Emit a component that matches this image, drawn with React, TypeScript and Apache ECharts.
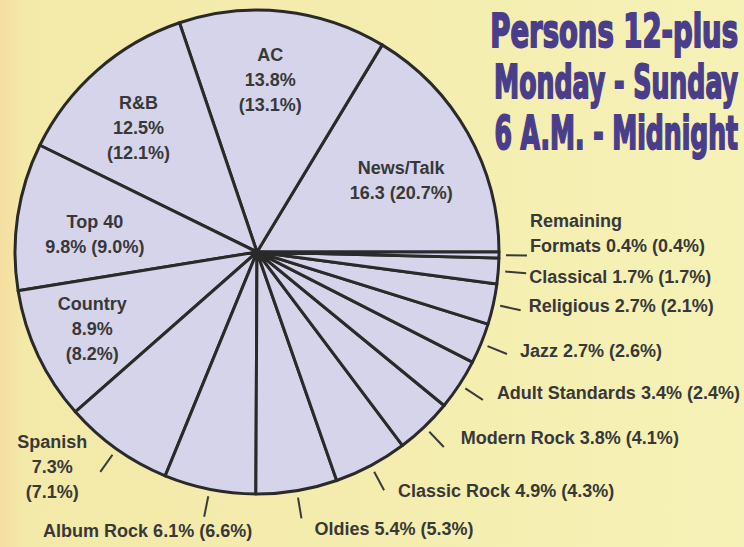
import React, { useEffect, useRef } from "react";
import * as echarts from "echarts";

// Radio format shares, Persons 12-plus, Mon-Sun 6 A.M. - Midnight
const formats = [
  "News/Talk",
  "AC",
  "R&B",
  "Top 40",
  "Country",
  "Spanish",
  "Album Rock",
  "Oldies",
  "Classic Rock",
  "Modern Rock",
  "Adult Standards",
  "Jazz",
  "Religious",
  "Classical",
  "Remaining Formats",
];
const shares = [16.3, 13.8, 12.5, 9.8, 8.9, 7.3, 6.1, 5.4, 4.9, 3.8, 3.4, 2.7, 2.7, 1.7, 0.4];
const priorShares = [20.7, 13.1, 12.1, 9.0, 8.2, 7.1, 6.6, 5.3, 4.3, 4.1, 2.4, 2.6, 2.1, 1.7, 0.4];
// where each label sits and how its text wraps
const labelSide = [
  "inside", "inside", "inside", "inside", "inside",
  "outside", "outside", "outside", "outside", "outside",
  "outside", "outside", "outside", "outside", "outside",
];
const labelWrap = [
  "twoNoPct", "three", "three", "two", "three",
  "three", "one", "one", "one", "one",
  "one", "one", "one", "one", "splitName",
];
const titleLines = ["Persons 12-plus", "Monday - Sunday", "6 A.M. - Midnight"];

function labelText(i: number): string {
  const name = formats[i];
  const cur = shares[i].toFixed(1);
  const prior = `(${priorShares[i].toFixed(1)}%)`;
  switch (labelWrap[i]) {
    case "twoNoPct":
      return `${name}\n${cur} ${prior}`;
    case "three":
      return `${name}\n${cur}%\n${prior}`;
    case "two":
      return `${name}\n${cur}% ${prior}`;
    case "splitName": {
      const parts = name.split(" ");
      return `${parts[0]}\n${parts.slice(1).join(" ")} ${cur}% ${prior}`;
    }
    default:
      return `${name} ${cur}% ${prior}`;
  }
}

const TEXT_COLOR = "#383838";
const LABEL_FONT = "'Liberation Sans', Arial, sans-serif";
const TITLE_COLOR = "#4a3d8c";
// per-line horizontal squeeze of the condensed title (layout styling)
const TITLE_SCALE = [0.65, 0.597, 0.593];

// small label offsets (layout styling, in px) relative to ECharts' own label placement
const LABEL_NUDGE: Record<string, [number, number]> = {
  "News/Talk": [-3, 12],
  AC: [-5, -4],
  "R&B": [-7, 3],
  "Top 40": [5, 7],
  Country: [-12, 5],
  Spanish: [-6, -5],
  "Album Rock": [55, 14],
  Oldies: [6, 11],
  "Classic Rock": [7, 1],
  "Modern Rock": [10, -9],
  "Adult Standards": [7, -7],
  Jazz: [6, -3],
  Religious: [1, -4],
  Classical: [-4, 4],
  "Remaining Formats": [-4, -22],
};

function nudgeLabel(params: any) {
  const name = formats[params.dataIndex];
  const nudge = LABEL_NUDGE[name];
  const r = params.labelRect;
  if (!nudge || !r) return {};
  let align = params.align || "center";
  let x = align === "right" ? r.x + r.width : align === "left" ? r.x : r.x + r.width / 2;
  if (name === "Spanish") {
    align = "center";
    x = r.x + r.width / 2;
  }
  const out: any = {
    x: x + nudge[0],
    y: r.y + r.height / 2 + nudge[1],
    align,
    verticalAlign: "middle",
  };
  if (params.labelLinePoints) out.labelLinePoints = params.labelLinePoints;
  return out;
}

export default function App() {
  const ref = useRef<HTMLDivElement>(null);

  useEffect(() => {
    if (!ref.current) return;
    const chart = echarts.init(ref.current, undefined, { renderer: "svg" });

    const baseData = formats.map((name, i) => ({ name, value: shares[i] }));
    const labelBase = {
      color: TEXT_COLOR,
      fontFamily: LABEL_FONT,
      fontWeight: "bold" as const,
      fontSize: 18,
      lineHeight: 25,
    };

    chart.setOption({
      animation: false,
      backgroundColor: new echarts.graphic.LinearGradient(0, 0, 1, 0, [
        { offset: 0, color: "#f5dda0" },
        { offset: 0.03, color: "#f3e9a8" },
        { offset: 1, color: "#f6f1b6" },
      ]),
      graphic: titleLines.map((line, i) => ({
        type: "text",
        x: 738,
        y: 5 + i * 51,
        z: 100,
        scaleX: TITLE_SCALE[i],
        style: {
          text: line,
          font: "bold 47px 'Liberation Sans Narrow', 'DejaVu Sans Condensed', sans-serif",
          fill: TITLE_COLOR,
          stroke: TITLE_COLOR,
          lineWidth: 2,
          align: "right",
          verticalAlign: "top",
          lineHeight: 51,
        },
      })),
      series: [
        {
          type: "pie",
          center: [257, 252],
          radius: [0, 242],
          startAngle: 0,
          clockwise: false,
          silent: true,
          label: { show: false },
          labelLine: { show: false },
          itemStyle: { color: "#d6d4ea", borderColor: "#2a2a2a", borderWidth: 3 },
          emphasis: { disabled: true },
          data: baseData,
        },
        {
          // labels inside the large slices
          type: "pie",
          center: [257, 252],
          radius: [0, 332],
          startAngle: 0,
          clockwise: false,
          silent: true,
          itemStyle: { color: "rgba(0,0,0,0)", borderWidth: 0 },
          emphasis: { disabled: true },
          labelLine: { show: false },
          labelLayout: nudgeLabel,
          data: baseData.map((d, i) => ({
            ...d,
            label: {
              show: labelSide[i] === "inside",
              position: "inside",
              align: "center",
              formatter: () => labelText(i),
              ...labelBase,
            },
          })),
        },
        {
          // labels outside the small slices, with detached leader ticks
          type: "pie",
          center: [257, 252],
          radius: [0, 249],
          startAngle: 0,
          clockwise: false,
          silent: true,
          avoidLabelOverlap: false,
          itemStyle: { color: "rgba(0,0,0,0)", borderWidth: 0 },
          emphasis: { disabled: true },
          labelLine: {
            length: 21,
            length2: 0,
            lineStyle: { color: "#3a3a3a", width: 2 },
          },
          labelLayout: nudgeLabel,
          data: baseData.map((d, i) => ({
            ...d,
            label: {
              show: labelSide[i] === "outside",
              position: "outside",
              distanceToLabelLine: 7,
              overflow: "none",
              formatter: () => labelText(i),
              ...labelBase,
            },
            labelLine: { show: labelSide[i] === "outside" },
          })),
        },
      ],
    });

    return () => chart.dispose();
  }, []);

  return (
    <div
      ref={ref}
      style={{ position: "absolute", left: 0, top: 0, width: 744, height: 547 }}
    />
  );
}
